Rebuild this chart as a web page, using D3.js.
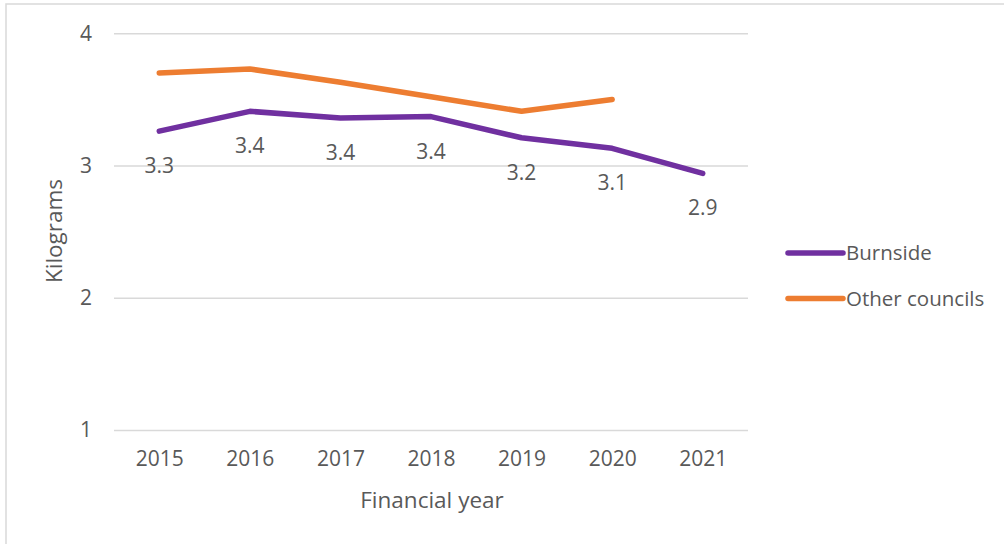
<!DOCTYPE html>
<html lang="en">
  <head>
    <meta charset="utf-8">
    <title>Kilograms by financial year</title>
    <script type="text/javascript" src="https://d3js.org/d3.v7.min.js"></script>
    <style>
      body { margin: 0; background: #fff; }
      text { font-family: "Open Sans", sans-serif; fill: #595959; }
    </style>
  </head>
  <body>
    <svg class="chart"></svg>
  </body>
  <script>
    // data
    const years = ["2015", "2016", "2017", "2018", "2019", "2020", "2021"];
    const burnside = [3.26, 3.41, 3.36, 3.37, 3.21, 3.13, 2.94];
    const otherCouncils = [3.70, 3.73, 3.63, 3.52, 3.41, 3.50, null];
    const yTicks = [1, 2, 3, 4];
    const seriesNames = ["Burnside", "Other councils"];
    const seriesColors = ["#7030a0", "#ed7d31"];

    const width = 1004, height = 544;
    const plotLeft = 114, plotRight = 748, plotTop = 33.3, plotBottom = 430;

    var svg = d3.select(".chart").attr("width", width).attr("height", height);

    // outer border (only top/left visible in the crop)
    svg.append("path")
      .attr("d", "M6,1000 L6,4 L1004,4")
      .attr("fill", "none")
      .attr("stroke", "#d9d9d9")
      .attr("stroke-width", 1.5);

    var x = d3.scalePoint().domain(years).range([plotLeft, plotRight]).padding(0.5);
    var y = d3.scaleLinear().domain([1, 4]).range([plotBottom, plotTop]);

    // gridlines + y labels
    var yAxis = d3.axisLeft(y).tickValues(yTicks).tickSize(-(plotRight - plotLeft)).tickPadding(22).tickFormat(d3.format("d"));
    var gy = svg.append("g").attr("transform", "translate(" + plotLeft + ",0)").call(yAxis);
    gy.select(".domain").remove();
    gy.selectAll(".tick line").attr("stroke", "#d9d9d9").attr("stroke-width", 1.5);
    gy.selectAll(".tick text").style("font-size", "21px").attr("fill", "#595959");

    // x labels
    var xAxis = d3.axisBottom(x).tickSize(0).tickPadding(21);
    var gx = svg.append("g").attr("transform", "translate(0," + plotBottom + ")").call(xAxis);
    gx.select(".domain").remove();
    gx.selectAll(".tick text").style("font-size", "21px").attr("fill", "#595959");

    // axis titles
    svg.append("text")
      .attr("transform", "translate(62,231) rotate(-90)")
      .attr("text-anchor", "middle")
      .style("font-size", "22.5px")
      .text("Kilograms");
    svg.append("text")
      .attr("x", 432).attr("y", 508)
      .attr("text-anchor", "middle")
      .style("font-size", "22.5px")
      .text("Financial year");

    var line = d3.line()
      .defined(d => d != null)
      .x((d, i) => x(years[i]))
      .y(d => y(d));

    [burnside, otherCouncils].forEach(function(values, k) {
      svg.append("path")
        .datum(values)
        .attr("fill", "none")
        .attr("stroke", seriesColors[k])
        .attr("stroke-width", 5.5)
        .attr("stroke-linecap", "round")
        .attr("stroke-linejoin", "round")
        .attr("d", line);
    });

    // data labels for Burnside, below the points
    svg.selectAll(".dlabel")
      .data(burnside)
      .enter().append("text")
        .attr("class", "dlabel")
        .attr("x", (d, i) => x(years[i]))
        .attr("y", d => y(d) + 42)
        .attr("text-anchor", "middle")
        .style("font-size", "21px")
        .text(d => d3.format(".1f")(d));

    // legend
    var legend = svg.selectAll(".legend")
      .data(seriesNames)
      .enter().append("g")
        .attr("class", "legend")
        .attr("transform", (d, i) => "translate(788," + (253 + i * 45.5) + ")");
    legend.append("line")
      .attr("x1", 0).attr("x2", 55)
      .attr("stroke", (d, i) => seriesColors[i])
      .attr("stroke-width", 5.5)
      .attr("stroke-linecap", "round");
    legend.append("text")
      .attr("x", 58).attr("dy", "0.35em")
      .style("font-size", "20.5px")
      .text(d => d);
  </script>
</html>
